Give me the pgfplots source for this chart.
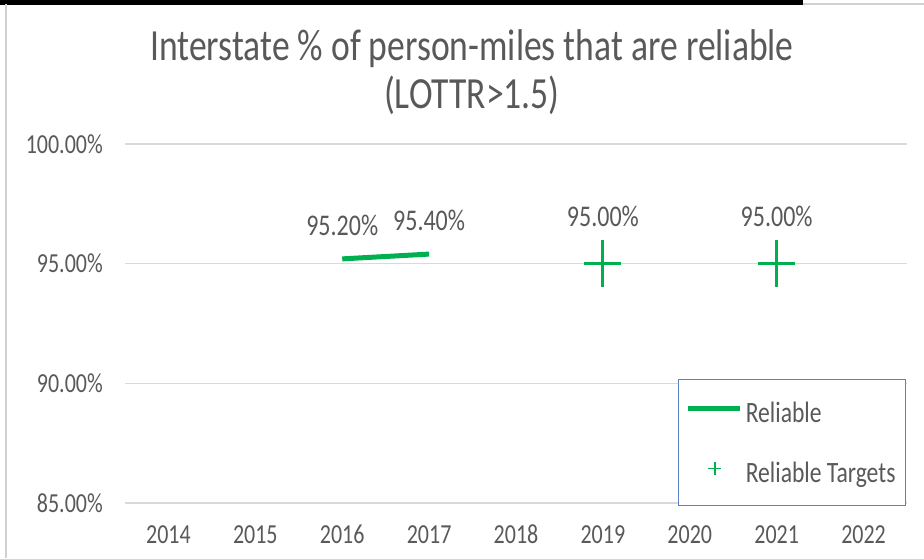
\documentclass[border=0pt]{standalone}
\usepackage{fontspec}
\setmainfont{Carlito}[FakeStretch=0.8]
\usepackage{pgfplots}
\pgfplotsset{compat=1.18}
\definecolor{xlgreen}{HTML}{00B050}
\definecolor{txtgray}{HTML}{595959}
\definecolor{gridgray}{HTML}{D9D9D9}
\definecolor{legblue}{HTML}{5B82C8}
\definecolor{framegray}{HTML}{D0D0D0}
\begin{document}
\begin{tikzpicture}[x=1pt,y=1pt]
\path[use as bounding box] (0,0) rectangle (924,558);
\fill[black] (0,553) rectangle (803,558);
\draw[framegray, line width=2pt] (803,554) -- (924,554);
\draw[framegray, line width=2pt] (6,0) -- (6,554);
\node[anchor=base, text=txtgray, font=\fontsize{44.5}{50}\selectfont, inner sep=0pt] at (472,497) {Interstate \% of person-miles that are reliable};
\node[anchor=base, text=txtgray, font=\fontsize{44.5}{50}\selectfont, inner sep=0pt] at (472,449) {(LOTTR>1.5)};
\begin{axis}[
  at={(125pt,55pt)}, anchor=south west,
  scale only axis, width=782pt, height=359pt,
  xmin=2013.5, xmax=2022.5, ymin=85, ymax=100,
  xtick={2014,2015,2016,2017,2018,2019,2020,2021,2022},
  xticklabels={2014,2015,2016,2017,2018,2019,2020,2021,2022},
  ytick={85,90,95,100},
  yticklabels={85.00\%,90.00\%,95.00\%,100.00\%},
  axis line style={draw=none}, major tick length=0pt,
  ymajorgrids, grid style={gridgray, line width=1.5pt},
  tick label style={font=\fontsize{27.5}{32}\selectfont, text=txtgray, inner sep=0pt},
  yticklabel style={anchor=east, xshift=-22pt},
  xticklabel style={anchor=north, yshift=-22pt},
  clip=false,
  legend style={draw=legblue, line width=1pt, fill=white,
    at={(0.9987,-0.0084)}, anchor=south east,
    inner xsep=7pt, inner ysep=21.5pt, row sep=37pt,
    font=\fontsize{29.5}{34}\selectfont, text=txtgray,
    nodes={inner xsep=3pt, inner ysep=0pt, text height=21pt, text depth=2pt, anchor=west}},
  legend cell align=left,
]
\addplot[xlgreen, line width=5pt, no markers,
  nodes near coords, point meta=explicit symbolic,
  every node near coord/.append style={anchor=south, inner sep=0pt, yshift=21pt, text=txtgray, font=\fontsize{30}{34}\selectfont},
  legend image code/.code={\draw[xlgreen, line width=5pt] (0pt,4pt) -- (52pt,4pt);}]
  coordinates {(2016,95.2) [95.20\%] (2017,95.4) [95.40\%]};
\addlegendentry{Reliable}
\addplot[xlgreen, only marks, mark=+, mark size=18.5pt,
  mark options={line width=3pt, yscale=1.27},
  nodes near coords, point meta=explicit symbolic,
  every node near coord/.append style={anchor=south, inner sep=0pt, yshift=35pt, text=txtgray, font=\fontsize{30}{34}\selectfont},
  legend image code/.code={\path[draw=none] (0pt,0pt) -- (52pt,0pt);\draw[xlgreen, line width=1.5pt] (20pt,4pt) -- (33pt,4pt) (26.5pt,-2.5pt) -- (26.5pt,10.5pt);}]
  coordinates {(2019,95.0) [95.00\%] (2021,95.0) [95.00\%]};
\addlegendentry{Reliable Targets}
\end{axis}
\end{tikzpicture}
\end{document}
